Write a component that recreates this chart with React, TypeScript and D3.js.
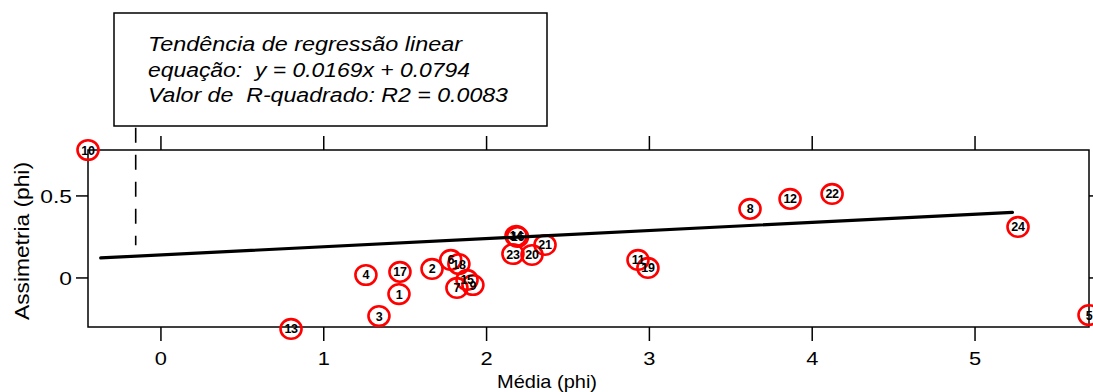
import React from "react";
import * as d3 from "d3";

// Sample stations: mean grain size (phi) vs skewness (phi)
const sampleIds = [1, 2, 3, 4, 5, 6, 7, 8, 9, 10, 11, 12, 13, 14, 15, 16, 17, 18, 19, 20, 21, 22, 23, 24];
const meanPhi = [1.462, 1.665, 1.339, 1.259, 5.7, 1.78, 1.818, 3.618, 1.916, -0.448, 2.93, 3.864, 0.799, 2.181, 1.88, 2.19, 1.468, 1.83, 2.991, 2.279, 2.359, 4.122, 2.162, 5.264];
const skewPhi = [-0.098, 0.055, -0.232, 0.018, -0.226, 0.11, -0.061, 0.421, -0.043, 0.78, 0.11, 0.482, -0.311, 0.256, -0.012, 0.25, 0.037, 0.085, 0.061, 0.14, 0.201, 0.512, 0.146, 0.311];

// Trend line end points
const trendX = [-0.37, 5.23];
const trendY = [0.122, 0.4];

// Leader line from the legend box
const leaderX = [-0.155, -0.155];
const leaderY = [0.915, 0.2];

const xTicks = [0, 1, 2, 3, 4, 5];
const yTicks = [0, 0.5];
const yTickLabels = ["0", "0.5"];

const legendLines = [
  "Tendência de regressão linear",
  "equação:  y = 0.0169x + 0.0794",
  "Valor de  R-quadrado: R2 = 0.0083",
];
const legendWidths = [314, 322, 360];

const W = 1093;
const H = 392;
const plot = { left: 88, right: 1089, top: 150, bottom: 327 };
const FONT = "'Liberation Sans', Arial, Helvetica, sans-serif";

export default function App() {
  const x = d3.scaleLinear().domain([-0.448, 5.7]).range([plot.left, plot.right]);
  const y = d3.scaleLinear().domain([-0.299, 0.78]).range([plot.bottom, plot.top]);
  const line = d3
    .line<number>()
    .x((_, i) => x(trendX[i]))
    .y((_, i) => y(trendY[i]));
  const leader = d3
    .line<number>()
    .x((_, i) => x(leaderX[i]))
    .y((_, i) => y(leaderY[i]));

  const stroke = "#000";
  return (
    <svg
      width={W}
      height={H}
      viewBox={`0 0 ${W} ${H}`}
      style={{ position: "absolute", left: 0, top: 0, background: "#fff" }}
      fontFamily={FONT}
    >
      <rect x={0} y={0} width={W} height={H} fill="#fff" />

      {/* legend box */}
      <rect x={114} y={13} width={433} height={113} fill="#fff" stroke={stroke} strokeWidth={1.5} />
      {legendLines.map((t, i) => (
        <text
          key={i}
          x={148}
          y={51 + i * 25.5}
          fontSize={19.5}
          fontStyle="italic"
          textLength={legendWidths[i]}
          lengthAdjust="spacingAndGlyphs"
          style={{ whiteSpace: "pre" }}
        >
          {t}
        </text>
      ))}
      <path d={leader(leaderX) ?? ""} stroke={stroke} strokeWidth={1.6} strokeDasharray="15,12" fill="none" />

      {/* frame */}
      <rect
        x={plot.left}
        y={plot.top}
        width={plot.right - plot.left}
        height={plot.bottom - plot.top}
        fill="none"
        stroke={stroke}
        strokeWidth={1.5}
      />

      {/* x ticks, bottom and top */}
      {xTicks.map((t) => (
        <g key={`xt${t}`}>
          <line x1={x(t)} x2={x(t)} y1={plot.bottom} y2={plot.bottom + 14} stroke={stroke} strokeWidth={1.5} />
          <line x1={x(t)} x2={x(t)} y1={plot.top} y2={plot.top - 14} stroke={stroke} strokeWidth={1.5} />
          <text
            x={x(t)}
            y={365}
            fontSize={19}
            textAnchor="middle"
            transform={`translate(${x(t)},0) scale(1.15,1) translate(${-x(t)},0)`}
          >
            {t}
          </text>
        </g>
      ))}

      {/* y ticks, left and right */}
      {yTicks.map((t, i) => (
        <g key={`yt${t}`}>
          <line x1={plot.left} x2={plot.left - 12} y1={y(t)} y2={y(t)} stroke={stroke} strokeWidth={1.5} />
          <line x1={plot.right} x2={plot.right + 12} y1={y(t)} y2={y(t)} stroke={stroke} strokeWidth={1.5} />
          <text
            x={72}
            y={y(t) + 7}
            fontSize={19}
            textAnchor="end"
            transform={`translate(72,0) scale(1.2,1) translate(-72,0)`}
          >
            {yTickLabels[i]}
          </text>
        </g>
      ))}

      {/* axis titles */}
      <text x={547} y={388} fontSize={19} textAnchor="middle" textLength={100} lengthAdjust="spacingAndGlyphs">
        Média (phi)
      </text>
      <text
        transform="translate(29,241) rotate(-90)"
        fontSize={21}
        textAnchor="middle"
        textLength={158}
        lengthAdjust="spacingAndGlyphs"
      >
        Assimetria (phi)
      </text>

      {/* sample markers: rings first, numbers on top */}
      {sampleIds.map((id, i) => (
        <ellipse
          key={`c${id}`}
          cx={x(meanPhi[i])}
          cy={y(skewPhi[i])}
          rx={10.5}
          ry={9.8}
          fill="none"
          stroke="#ff0000"
          strokeWidth={2.6}
        />
      ))}
      {sampleIds.map((id, i) => (
        <text
          key={`t${id}`}
          x={x(meanPhi[i])}
          y={y(skewPhi[i]) + 4.5}
          fontSize={12.5}
          fontWeight="bold"
          textAnchor="middle"
          letterSpacing={-0.3}
        >
          {id}
        </text>
      ))}

      {/* regression trend */}
      <path d={line(trendX) ?? ""} stroke={stroke} strokeWidth={3.2} fill="none" strokeLinecap="round" />
    </svg>
  );
}
